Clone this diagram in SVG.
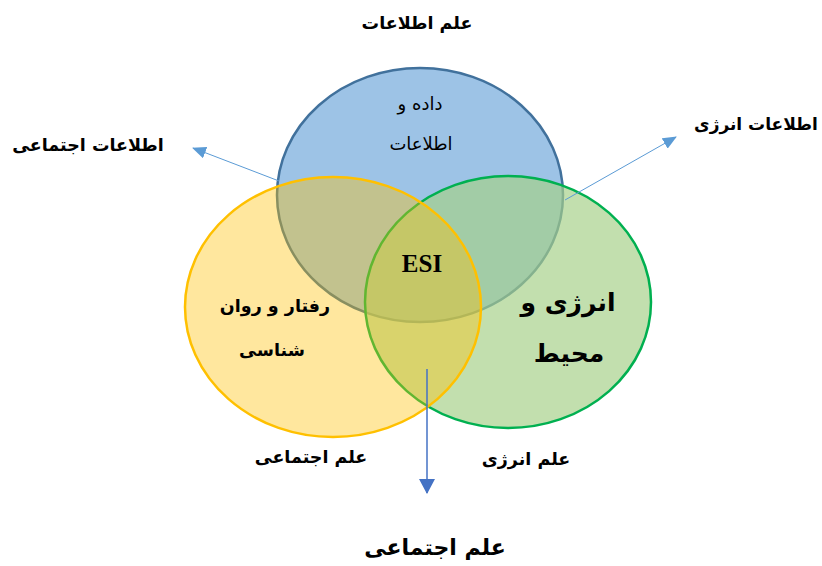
<svg xmlns="http://www.w3.org/2000/svg" width="822" height="566" viewBox="0 0 822 566">
<defs>
<style>
.t{font-family:"DejaVu Sans","Liberation Serif",serif;font-weight:bold;fill:#000;text-anchor:middle}
.n{font-family:"DejaVu Sans","Liberation Serif",serif;font-weight:normal;fill:#000;text-anchor:middle}
.arr{stroke:#5b9bd5;stroke-width:1;fill:none}
</style>
<marker id="ah" markerWidth="14" markerHeight="12" refX="13" refY="6" orient="auto" markerUnits="userSpaceOnUse">
<path d="M0,0 L14,6 L0,12 Z" fill="#5b9bd5"/>
</marker>
<marker id="ahd" markerWidth="15" markerHeight="16" refX="14" refY="8" orient="auto" markerUnits="userSpaceOnUse">
<path d="M0,0 L15,8 L0,16 Z" fill="#4472c4"/>
</marker>
</defs>
<rect width="822" height="566" fill="#fff"/>
<text class="t" x="417" y="29" font-size="17.5" direction="rtl">علم اطلاعات</text>
<g id="blue">
<ellipse cx="420" cy="195" rx="143" ry="127" fill="#9dc3e6" stroke="#41719c" stroke-width="2.5"/>
<text class="n" x="420" y="110" font-size="18" direction="rtl">داده و</text>
<text class="n" x="421" y="150" font-size="18" direction="rtl">اطلاعات</text>
</g>
<g id="green">
<ellipse cx="508" cy="302" rx="143" ry="126" fill="#a5d088" fill-opacity="0.68" stroke="#00b050" stroke-width="2.5"/>
<text class="t" x="568" y="311" font-size="25" direction="rtl">انرژی و</text>
<text class="t" x="569" y="362" font-size="25" direction="rtl">محیط</text>
</g>
<g id="yellow">
<ellipse cx="333" cy="307" rx="148" ry="130" fill="#ffc000" fill-opacity="0.38" stroke="#ffc000" stroke-width="2.5"/>
<text class="t" x="275" y="312" font-size="17.5" direction="rtl">رفتار و روان</text>
<text class="t" x="272" y="356" font-size="17.5" direction="rtl">شناسی</text>
</g>
<g id="esi">
<text x="422" y="272" font-family="'Liberation Serif',serif" font-weight="bold" font-size="25" text-anchor="middle">ESI</text>
</g>
<g id="connectors">
<line class="arr" x1="279" y1="181" x2="193" y2="148" marker-end="url(#ah)"/>
<line class="arr" x1="565" y1="200" x2="676" y2="137" marker-end="url(#ah)"/>
<line x1="427" y1="369" x2="427" y2="493" stroke="#4472c4" stroke-width="1.5" marker-end="url(#ahd)"/>
</g>
<g id="labels">
<text class="t" x="88" y="151" font-size="17.5" direction="rtl">اطلاعات اجتماعی</text>
<text class="t" x="756" y="130" font-size="17" direction="rtl">اطلاعات انرژی</text>
<text class="t" x="311" y="463" font-size="17.5" direction="rtl">علم اجتماعی</text>
<text class="t" x="526" y="465" font-size="17.5" direction="rtl">علم انرژی</text>
<text class="t" x="435" y="555" font-size="22" direction="rtl">علم اجتماعی</text>
</g>
</svg>
